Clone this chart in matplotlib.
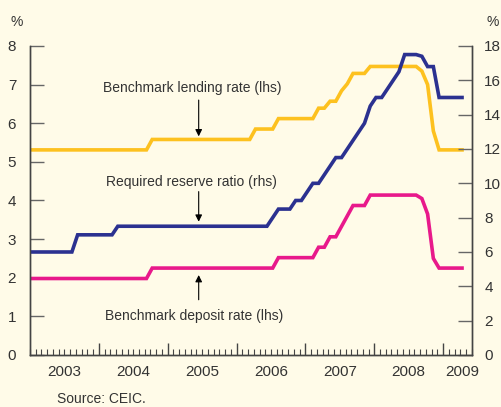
import numpy as np
import matplotlib.pyplot as plt

plt.rcParams['font.family'] = ['Liberation Sans', 'DejaVu Sans']

# monthly observations, Jan 2003 .. Apr 2009
start_year = 2003
lending = ([5.31] * 21 + [5.58] * 18 + [5.85] * 4 + [6.12] * 7 + [6.39] * 2
           + [6.57, 6.57, 6.84, 7.02, 7.29, 7.29, 7.29] + [7.47] * 9
           + [7.35, 7.0, 5.8] + [5.31] * 5)
deposit = ([1.98] * 21 + [2.25] * 22 + [2.52] * 7 + [2.79] * 2
           + [3.06, 3.06, 3.33, 3.60, 3.87, 3.87, 3.87] + [4.14] * 9
           + [4.05, 3.65, 2.5] + [2.25] * 5)
reserve = ([6.0] * 8 + [7.0] * 7 + [7.5] * 27 + [8.0] + [8.5] * 3 + [9.0] * 2
           + [9.5, 10.0, 10.0, 10.5, 11.0, 11.5, 11.5, 12.0, 12.5, 13.0, 13.5,
              14.5, 15.0, 15.0, 15.5, 16.0, 16.5, 17.5, 17.5, 17.5, 17.4,
              16.8, 16.8] + [15.0] * 5)

years = list(range(2003, 2010))
year_labels = [str(y) for y in years]
label_pos = [2003.5, 2004.5, 2005.5, 2006.5, 2007.5, 2008.5, 2009.28]

bg = '#fffbe8'
c_lend = '#fdc11f'
c_dep = '#e8198b'
c_rrr = '#2b3190'
txt = '#333333'

months = np.arange(len(lending))
x = start_year + (months + 0.3) / 12

fig = plt.figure(figsize=(5.02, 4.07), dpi=100, facecolor=bg)
ax = fig.add_axes([0.0598, 0.1278, 0.88, 0.7592])
ax.set_facecolor(bg)
ax2 = ax.twinx()

ax.plot(x, lending, color=c_lend, lw=2.6, solid_joinstyle='miter')
ax.plot(x, deposit, color=c_dep, lw=2.6, solid_joinstyle='miter')
ax2.plot(x, reserve, color=c_rrr, lw=2.6, solid_joinstyle='miter')

ax.set_xlim(2003, 2009.41)
ax.set_ylim(0, 8)
ax2.set_ylim(0, 18)

for a in (ax, ax2):
    a.spines['top'].set_visible(False)
    for s in a.spines.values():
        s.set_color('#444444')
        s.set_linewidth(1.0)

ax.set_yticks(range(0, 9))
ax2.set_yticks(range(0, 19, 2))
ax.tick_params(axis='y', direction='in', length=10, width=1, color='#666666',
               labelsize=11, labelcolor=txt, pad=10)
ax2.tick_params(axis='y', direction='in', length=10, width=1, color='#666666',
                labelsize=11, labelcolor=txt, pad=9)

ax.set_xticks(years[1:])
ax.set_xticks(start_year + np.arange(0, 78) / 12, minor=True)
ax.set_xticklabels([])
ax.tick_params(axis='x', which='major', direction='in', length=9, width=1,
               color='#444444')
ax.tick_params(axis='x', which='minor', direction='in', length=4, width=0.8,
               color='#444444')
for p, lab in zip(label_pos, year_labels):
    ax.text(p, -0.032, lab, transform=ax.get_xaxis_transform(), ha='center',
            va='top', fontsize=11, color=txt)

fig.text(0.034, 0.945, '%', fontsize=10, color=txt, ha='center', va='center')
fig.text(0.982, 0.945, '%', fontsize=10, color=txt, ha='center', va='center')
fig.text(0.114, 0.011, 'Source: CEIC.', fontsize=10, color=txt, ha='left',
         va='baseline')

arrow = dict(arrowstyle='-|>', color='black', lw=0.8, mutation_scale=10,
             shrinkA=0, shrinkB=0)
ax_x = 2005.45
ax.annotate('', xy=(ax_x, 5.66), xytext=(ax_x, 6.6), arrowprops=arrow)
ax.text(ax_x - 0.09, 6.92, 'Benchmark lending rate (lhs)', ha='center',
        va='center', fontsize=10, color=txt)
ax.annotate('', xy=(ax_x, 3.45), xytext=(ax_x, 4.23), arrowprops=arrow)
ax.text(ax_x - 0.11, 4.47, 'Required reserve ratio (rhs)', ha='center',
        va='center', fontsize=10, color=txt)
ax.annotate('', xy=(ax_x, 2.07), xytext=(ax_x, 1.43), arrowprops=arrow)
ax.text(ax_x - 0.06, 1.0, 'Benchmark deposit rate (lhs)', ha='center',
        va='center', fontsize=10, color=txt)

fig.savefig('out.png', dpi=100, facecolor=bg)
